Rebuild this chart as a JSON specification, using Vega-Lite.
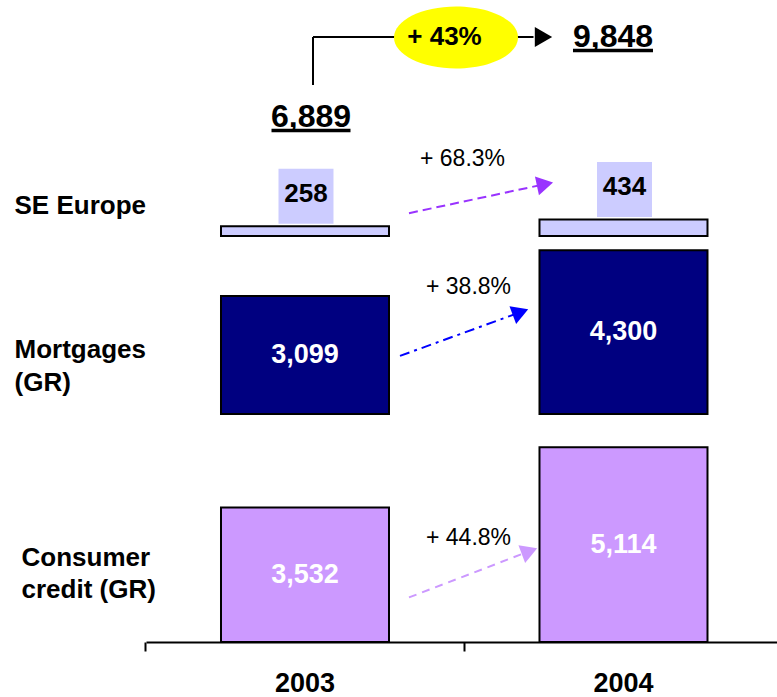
{
  "$schema": "https://vega.github.io/schema/vega-lite/v6.json",
  "padding": {"left": 14, "top": 0, "right": 0, "bottom": 0},
  "config": {"view": {"stroke": null}, "font": "Liberation Sans"},
  "datasets": {
    "segments": [
      {"segment": "SE Europe", "year": "2003", "value": 258},
      {"segment": "SE Europe", "year": "2004", "value": 434},
      {"segment": "Mortgages (GR)", "year": "2003", "value": 3099},
      {"segment": "Mortgages (GR)", "year": "2004", "value": 4300},
      {"segment": "Consumer credit (GR)", "year": "2003", "value": 3532},
      {"segment": "Consumer credit (GR)", "year": "2004", "value": 5114}
    ],
    "growth": [
      {"segment": "SE Europe", "from_year": "2003", "to_year": "2004", "from": 258, "to": 434, "label": "+ 68.3%"},
      {"segment": "Mortgages (GR)", "from_year": "2003", "to_year": "2004", "from": 3099, "to": 4300, "label": "+ 38.8%"},
      {"segment": "Consumer credit (GR)", "from_year": "2003", "to_year": "2004", "from": 3532, "to": 5114, "label": "+ 44.8%"}
    ],
    "totals": [
      {"year": "2003", "total": 6889},
      {"year": "2004", "total": 9848}
    ],
    "total_growth": [
      {"from_year": "2003", "to_year": "2004", "from": 6889, "to": 9848, "label": "+ 43%"}
    ]
  },
  "vconcat": [
    {
      "width": 631,
      "height": 140,
      "layer": [
        {
          "data": {"name": "total_growth"},
          "mark": {"type": "rule", "color": "black", "strokeWidth": 2, "xOffset": 8, "yOffset": -42, "y2Offset": -10},
          "encoding": {
            "x": {"field": "from_year", "type": "nominal", "scale": {"domain": ["2003", "2004"], "paddingInner": 0.058, "paddingOuter": 0.0196, "align": 0.72}, "axis": null},
            "y": {"field": "from", "type": "quantitative", "scale": {"domain": [6408, 11586], "zero": false, "nice": false}, "axis": null},
            "y2": {"field": "to"}
          }
        },
        {
          "data": {"name": "total_growth"},
          "mark": {"type": "rule", "color": "black", "strokeWidth": 2, "xOffset": 8, "x2Offset": -90, "yOffset": -10},
          "encoding": {
            "x": {"field": "from_year", "type": "nominal", "bandPosition": 0.5},
            "x2": {"field": "to_year", "bandPosition": 0.5},
            "y": {"field": "to", "type": "quantitative"}
          }
        },
        {
          "data": {"name": "total_growth"},
          "mark": {"type": "point", "shape": "triangle-right", "filled": true, "color": "black", "opacity": 1, "size": 400, "xOffset": -80, "yOffset": -10},
          "encoding": {
            "x": {"field": "to_year", "type": "nominal"},
            "y": {"field": "to", "type": "quantitative"}
          }
        },
        {
          "data": {"name": "total_growth"},
          "mark": {"type": "point", "shape": "M-1,0A1,0.5,0,1,1,1,0A1,0.5,0,1,1,-1,0Z", "filled": true, "color": "#FFFF00", "opacity": 1, "strokeWidth": 0, "size": 15376, "xOffset": 151, "yOffset": -9.5},
          "encoding": {
            "x": {"field": "from_year", "type": "nominal"},
            "y": {"field": "to", "type": "quantitative"}
          }
        },
        {
          "data": {"name": "total_growth"},
          "mark": {"type": "text", "fontSize": 26, "fontWeight": "bold", "color": "black", "align": "center", "baseline": "alphabetic", "xOffset": 139.5, "yOffset": -2},
          "encoding": {
            "x": {"field": "from_year", "type": "nominal"},
            "y": {"field": "to", "type": "quantitative"},
            "text": {"field": "label", "type": "nominal"}
          }
        },
        {
          "data": {"name": "totals"},
          "transform": [{"filter": "datum.year === '2003'"}],
          "mark": {"type": "text", "fontSize": 32, "fontWeight": "bold", "color": "black", "align": "center", "baseline": "alphabetic", "xOffset": 6},
          "encoding": {
            "x": {"field": "year", "type": "nominal"},
            "y": {"field": "total", "type": "quantitative"},
            "text": {"field": "total", "type": "quantitative", "format": ","}
          }
        },
        {
          "data": {"name": "totals"},
          "transform": [{"filter": "datum.year === '2003'"}],
          "mark": {"type": "tick", "orient": "horizontal", "color": "black", "opacity": 1, "thickness": 3.5, "size": 79, "xOffset": 6, "yOffset": 3.5},
          "encoding": {
            "x": {"field": "year", "type": "nominal"},
            "y": {"field": "total", "type": "quantitative"}
          }
        },
        {
          "data": {"name": "totals"},
          "transform": [{"filter": "datum.year === '2004'"}],
          "mark": {"type": "text", "fontSize": 32, "fontWeight": "bold", "color": "black", "align": "center", "baseline": "alphabetic", "xOffset": -10.5},
          "encoding": {
            "x": {"field": "year", "type": "nominal"},
            "y": {"field": "total", "type": "quantitative"},
            "text": {"field": "total", "type": "quantitative", "format": ","}
          }
        },
        {
          "data": {"name": "totals"},
          "transform": [{"filter": "datum.year === '2004'"}],
          "mark": {"type": "tick", "orient": "horizontal", "color": "black", "opacity": 1, "thickness": 3.5, "size": 80, "xOffset": -10.5, "yOffset": 3.5},
          "encoding": {
            "x": {"field": "year", "type": "nominal"},
            "y": {"field": "total", "type": "quantitative"}
          }
        }
      ]
    },
    {
      "width": 631,
      "height": 96,
      "resolve": {"scale": {"y": "independent"}},
      "layer": [
        {
          "data": {"name": "segments"},
          "transform": [{"filter": "datum.segment === 'SE Europe'"}],
          "mark": {"type": "point", "shape": "square", "filled": true, "color": "#CCCCFF", "opacity": 1, "strokeWidth": 0, "size": 3025, "xOffset": 1, "yOffset": -30},
          "encoding": {
            "x": {"field": "year", "type": "nominal", "scale": {"domain": ["2003", "2004"], "paddingInner": 0.058, "paddingOuter": 0.0196, "align": 0.72}, "axis": null},
            "y": {"field": "value", "type": "quantitative", "scale": {"domain": [0, 2519.7], "nice": false}, "axis": {"title": "SE Europe", "titleAngle": 0, "titleAlign": "left", "titleBaseline": "alphabetic", "titleX": -132, "titleY": 73, "titleFontSize": 26, "titleFontWeight": "bold", "titleColor": "black", "labels": false, "ticks": false, "domain": false, "grid": false}}
          }
        },
        {
          "data": {"name": "segments"},
          "transform": [{"filter": "datum.segment === 'SE Europe'"}],
          "mark": {"type": "text", "fontSize": 26, "fontWeight": "bold", "color": "black", "align": "center", "baseline": "middle", "xOffset": 1, "yOffset": -32.5},
          "encoding": {
            "x": {"field": "year", "type": "nominal"},
            "y": {"field": "value", "type": "quantitative", "scale": {"domain": [0, 2519.7], "nice": false}, "axis": null},
            "text": {"field": "value", "type": "quantitative", "format": ","}
          }
        },
        {
          "data": {"name": "segments"},
          "transform": [{"filter": "datum.segment === 'SE Europe'"}],
          "mark": {"type": "bar", "width": 168, "color": "#CCCCFF", "stroke": "black", "strokeWidth": 2},
          "encoding": {
            "x": {"field": "year", "type": "nominal"},
            "y": {"field": "value", "type": "quantitative", "scale": {"domain": [0, 2519.7], "nice": false}, "axis": null}
          }
        },
        {
          "data": {"name": "growth"},
          "transform": [{"filter": "datum.segment === 'SE Europe'"}],
          "mark": {"type": "rule", "color": "#9933FF", "strokeWidth": 2, "strokeDash": [9, 5], "xOffset": 104, "x2Offset": -78.5, "yOffset": -13, "y2Offset": -35.3},
          "encoding": {
            "x": {"field": "from_year", "type": "nominal", "bandPosition": 0.5},
            "x2": {"field": "to_year", "bandPosition": 0.5},
            "y": {"field": "from", "type": "quantitative", "scale": {"domain": [0, 2519.7], "nice": false}, "axis": null},
            "y2": {"field": "to"}
          }
        },
        {
          "data": {"name": "growth"},
          "transform": [{"filter": "datum.segment === 'SE Europe'"}],
          "mark": {"type": "point", "shape": "triangle-right", "filled": true, "color": "#9933FF", "opacity": 1, "size": 361, "angle": -12.15, "xOffset": -78.5, "yOffset": -35.3},
          "encoding": {
            "x": {"field": "to_year", "type": "nominal"},
            "y": {"field": "to", "type": "quantitative", "scale": {"domain": [0, 2519.7], "nice": false}, "axis": null}
          }
        },
        {
          "data": {"name": "growth"},
          "transform": [{"filter": "datum.segment === 'SE Europe'"}],
          "mark": {"type": "text", "fontSize": 23, "color": "black", "align": "center", "baseline": "alphabetic", "xOffset": 157.5, "yOffset": -60},
          "encoding": {
            "x": {"field": "from_year", "type": "nominal"},
            "y": {"field": "from", "type": "quantitative", "scale": {"domain": [0, 2519.7], "nice": false}, "axis": null},
            "text": {"field": "label", "type": "nominal"}
          }
        }
      ]
    },
    {
      "width": 631,
      "height": 178,
      "resolve": {"scale": {"y": "independent"}},
      "layer": [
        {
          "data": {"name": "segments"},
          "transform": [{"filter": "datum.segment === 'Mortgages (GR)'"}],
          "mark": {"type": "bar", "width": 168, "color": "#000080", "stroke": "black", "strokeWidth": 2},
          "encoding": {
            "x": {"field": "year", "type": "nominal", "scale": {"domain": ["2003", "2004"], "paddingInner": 0.058, "paddingOuter": 0.0196, "align": 0.72}, "axis": null},
            "y": {"field": "value", "type": "quantitative", "scale": {"domain": [0, 4671.9], "nice": false}, "axis": {"title": ["Mortgages", "(GR)"], "titleAngle": 0, "titleAlign": "left", "titleBaseline": "alphabetic", "titleX": -132, "titleY": 121, "titleLineHeight": 33, "titleFontSize": 26, "titleFontWeight": "bold", "titleColor": "black", "labels": false, "ticks": false, "domain": false, "grid": false}}
          }
        },
        {
          "data": {"name": "segments"},
          "transform": [{"filter": "datum.segment === 'Mortgages (GR)'"}],
          "mark": {"type": "text", "fontSize": 27, "fontWeight": "bold", "color": "white", "align": "center", "baseline": "middle"},
          "encoding": {
            "x": {"field": "year", "type": "nominal"},
            "y": {"field": "value", "type": "quantitative", "scale": {"domain": [0, 9343.8], "nice": false}, "axis": null},
            "text": {"field": "value", "type": "quantitative", "format": ","}
          }
        },
        {
          "data": {"name": "growth"},
          "transform": [{"filter": "datum.segment === 'Mortgages (GR)'"}],
          "mark": {"type": "rule", "color": "#0000FF", "strokeWidth": 2, "strokeDash": [10, 5, 3, 5], "xOffset": 95, "x2Offset": -103, "yOffset": 60, "y2Offset": 62},
          "encoding": {
            "x": {"field": "from_year", "type": "nominal", "bandPosition": 0.5},
            "x2": {"field": "to_year", "bandPosition": 0.5},
            "y": {"field": "from", "type": "quantitative", "scale": {"domain": [0, 4671.9], "nice": false}, "axis": null},
            "y2": {"field": "to"}
          }
        },
        {
          "data": {"name": "growth"},
          "transform": [{"filter": "datum.segment === 'Mortgages (GR)'"}],
          "mark": {"type": "point", "shape": "triangle-right", "filled": true, "color": "#0000FF", "opacity": 1, "size": 361, "angle": -20.4, "xOffset": -103, "yOffset": 62},
          "encoding": {
            "x": {"field": "to_year", "type": "nominal"},
            "y": {"field": "to", "type": "quantitative", "scale": {"domain": [0, 4671.9], "nice": false}, "axis": null}
          }
        },
        {
          "data": {"name": "growth"},
          "transform": [{"filter": "datum.segment === 'Mortgages (GR)'"}],
          "mark": {"type": "text", "fontSize": 23, "color": "black", "align": "center", "baseline": "alphabetic", "xOffset": 163.5, "yOffset": -2},
          "encoding": {
            "x": {"field": "from_year", "type": "nominal"},
            "y": {"field": "from", "type": "quantitative", "scale": {"domain": [0, 4671.9], "nice": false}, "axis": null},
            "text": {"field": "label", "type": "nominal"}
          }
        }
      ]
    },
    {
      "width": 631,
      "height": 228,
      "resolve": {"scale": {"y": "independent"}},
      "layer": [
        {
          "data": {"name": "segments"},
          "transform": [{"filter": "datum.segment === 'Consumer credit (GR)'"}],
          "mark": {"type": "bar", "width": 168, "color": "#CC99FF", "stroke": "black", "strokeWidth": 2},
          "encoding": {
            "x": {"field": "year", "type": "nominal", "scale": {"domain": ["2003", "2004"], "paddingInner": 0.058, "paddingOuter": 0.0196, "align": 0.72}, "axis": {"orient": "bottom", "title": null, "domain": true, "domainColor": "black", "domainWidth": 2, "ticks": true, "tickColor": "black", "tickWidth": 2, "tickSize": 9, "bandPosition": -0.03, "labelAngle": 0, "labelFontSize": 27, "labelFontWeight": "bold", "labelColor": "black", "labelPadding": 19, "grid": false}},
            "y": {"field": "value", "type": "quantitative", "scale": {"domain": [0, 5984.3], "nice": false}, "axis": {"title": ["Consumer", "credit (GR)"], "titleAngle": 0, "titleAlign": "left", "titleBaseline": "alphabetic", "titleX": -125, "titleY": 151, "titleLineHeight": 32, "titleFontSize": 26, "titleFontWeight": "bold", "titleColor": "black", "labels": false, "ticks": false, "domain": false, "grid": false}}
          }
        },
        {
          "data": {"name": "segments"},
          "transform": [{"filter": "datum.segment === 'Consumer credit (GR)'"}],
          "mark": {"type": "text", "fontSize": 27, "fontWeight": "bold", "color": "white", "align": "center", "baseline": "middle"},
          "encoding": {
            "x": {"field": "year", "type": "nominal"},
            "y": {"field": "value", "type": "quantitative", "scale": {"domain": [0, 11968.6], "nice": false}, "axis": null},
            "text": {"field": "value", "type": "quantitative", "format": ","}
          }
        },
        {
          "data": {"name": "growth"},
          "transform": [{"filter": "datum.segment === 'Consumer credit (GR)'"}],
          "mark": {"type": "rule", "color": "#CC99FF", "strokeWidth": 2, "strokeDash": [8, 6], "xOffset": 104, "x2Offset": -94, "yOffset": 90, "y2Offset": 104},
          "encoding": {
            "x": {"field": "from_year", "type": "nominal", "bandPosition": 0.5},
            "x2": {"field": "to_year", "bandPosition": 0.5},
            "y": {"field": "from", "type": "quantitative", "scale": {"domain": [0, 5984.3], "nice": false}, "axis": null},
            "y2": {"field": "to"}
          }
        },
        {
          "data": {"name": "growth"},
          "transform": [{"filter": "datum.segment === 'Consumer credit (GR)'"}],
          "mark": {"type": "point", "shape": "triangle-right", "filled": true, "color": "#CC99FF", "opacity": 1, "size": 361, "angle": -20.7, "xOffset": -94, "yOffset": 104},
          "encoding": {
            "x": {"field": "to_year", "type": "nominal"},
            "y": {"field": "to", "type": "quantitative", "scale": {"domain": [0, 5984.3], "nice": false}, "axis": null}
          }
        },
        {
          "data": {"name": "growth"},
          "transform": [{"filter": "datum.segment === 'Consumer credit (GR)'"}],
          "mark": {"type": "text", "fontSize": 23, "color": "black", "align": "center", "baseline": "alphabetic", "xOffset": 163.5, "yOffset": 38},
          "encoding": {
            "x": {"field": "from_year", "type": "nominal"},
            "y": {"field": "from", "type": "quantitative", "scale": {"domain": [0, 5984.3], "nice": false}, "axis": null},
            "text": {"field": "label", "type": "nominal"}
          }
        }
      ]
    }
  ],
  "spacing": 0,
  "bounds": "flush",
  "resolve": {"scale": {"y": "independent"}}
}
